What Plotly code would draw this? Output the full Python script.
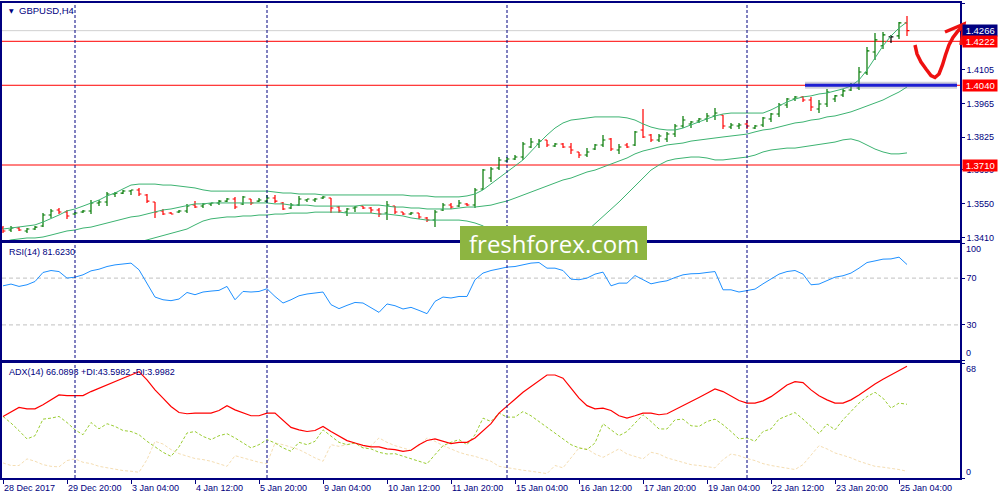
import plotly.graph_objects as go

# ---------------- data ----------------
bar_index = list(range(114))

opens = [1.34492, 1.34409, 1.34492, 1.34368, 1.34451, 1.34575, 1.35031, 1.35237, 1.35155, 1.35072,
         1.35155, 1.35196, 1.35527, 1.35568, 1.35899, 1.35940, 1.36023, 1.36065, 1.35858, 1.35568,
         1.35196, 1.35113, 1.35155, 1.35196, 1.35444, 1.35403, 1.35485, 1.35527, 1.35609, 1.35692,
         1.35485, 1.35692, 1.35609, 1.35609, 1.35734, 1.35527, 1.35320, 1.35444, 1.35651, 1.35651,
         1.35734, 1.35734, 1.35361, 1.35155, 1.35320, 1.35403, 1.35320, 1.35237, 1.35113, 1.35403,
         1.35155, 1.35072, 1.35113, 1.34906, 1.34824, 1.35237, 1.35444, 1.35403, 1.35485, 1.35444,
         1.36106, 1.36562, 1.36976, 1.37266, 1.37349, 1.37431, 1.37845, 1.37969, 1.38135, 1.37887,
         1.37969, 1.37845, 1.37638, 1.37514, 1.37762, 1.37928, 1.38176, 1.37721, 1.37928, 1.37928,
         1.38549, 1.38342, 1.38135, 1.38176, 1.38383, 1.38715, 1.38797, 1.38922, 1.39004, 1.39128,
         1.39170, 1.38673, 1.38715, 1.38797, 1.38632, 1.38756, 1.39004, 1.39211, 1.39584, 1.39832,
         1.39915, 1.39791, 1.39418, 1.39625, 1.39832, 1.39998, 1.40205, 1.40288, 1.40909, 1.41778,
         1.42027, 1.42399, 1.42441, 1.42979]
highs = [1.34575, 1.34575, 1.34533, 1.34492, 1.34575, 1.35113, 1.35279, 1.35320, 1.35237, 1.35155,
         1.35237, 1.35651, 1.35651, 1.35982, 1.35982, 1.36065, 1.36065, 1.36147, 1.35899, 1.35568,
         1.35279, 1.35155, 1.35237, 1.35485, 1.35609, 1.35527, 1.35527, 1.35651, 1.35734, 1.35775,
         1.35816, 1.35692, 1.35734, 1.35858, 1.35858, 1.35568, 1.35527, 1.35816, 1.35692, 1.35734,
         1.35816, 1.35734, 1.35403, 1.35320, 1.35403, 1.35403, 1.35361, 1.35320, 1.35609, 1.35403,
         1.35155, 1.35155, 1.35113, 1.34948, 1.35237, 1.35527, 1.35527, 1.35651, 1.35527, 1.36147,
         1.36935, 1.37017, 1.37431, 1.37431, 1.37514, 1.38052, 1.38218, 1.38176, 1.38135, 1.38011,
         1.38011, 1.38011, 1.37638, 1.37804, 1.37969, 1.38342, 1.38218, 1.37969, 1.38011, 1.38508,
         1.39418, 1.38383, 1.38383, 1.38466, 1.38797, 1.39128, 1.38922, 1.39045, 1.39252, 1.39460,
         1.39170, 1.38839, 1.38839, 1.38963, 1.38756, 1.39087, 1.39252, 1.39667, 1.39874, 1.39957,
         1.39957, 1.39915, 1.39791, 1.40246, 1.39998, 1.40246, 1.40495, 1.41157, 1.41985, 1.42565,
         1.42606, 1.42482, 1.43020, 1.43269]
lows = [1.34285, 1.34327, 1.34368, 1.34285, 1.34409, 1.34533, 1.34906, 1.35072, 1.34865, 1.35031,
        1.35113, 1.35072, 1.35403, 1.35403, 1.35775, 1.35899, 1.35858, 1.35816, 1.35527, 1.34906,
        1.35031, 1.35072, 1.35113, 1.35113, 1.35320, 1.35320, 1.35403, 1.35444, 1.35568, 1.35279,
        1.35444, 1.35444, 1.35568, 1.35527, 1.35527, 1.35237, 1.35279, 1.35403, 1.35568, 1.35568,
        1.35692, 1.35113, 1.35113, 1.34989, 1.35155, 1.35279, 1.35113, 1.34948, 1.34824, 1.35072,
        1.35031, 1.35031, 1.34865, 1.34741, 1.34533, 1.35196, 1.35279, 1.35361, 1.35403, 1.35320,
        1.36065, 1.36396, 1.36893, 1.37224, 1.37307, 1.37307, 1.37804, 1.37804, 1.37845, 1.37845,
        1.37804, 1.37555, 1.37390, 1.37431, 1.37721, 1.37845, 1.37680, 1.37555, 1.37804, 1.37887,
        1.38218, 1.38052, 1.38052, 1.38052, 1.38259, 1.38632, 1.38632, 1.38839, 1.38880, 1.38963,
        1.38590, 1.38590, 1.38590, 1.38590, 1.38590, 1.38673, 1.38880, 1.39087, 1.39460, 1.39750,
        1.39709, 1.39335, 1.39252, 1.39501, 1.39709, 1.39915, 1.40164, 1.40205, 1.40826, 1.41447,
        1.41902, 1.42151, 1.42316, 1.42441]
closes = [1.34368, 1.34492, 1.34409, 1.34451, 1.34533, 1.35031, 1.35196, 1.35155, 1.34989, 1.35113,
          1.35196, 1.35527, 1.35568, 1.35899, 1.35940, 1.36023, 1.36065, 1.35899, 1.35609, 1.35155,
          1.35072, 1.35072, 1.35196, 1.35403, 1.35361, 1.35485, 1.35527, 1.35609, 1.35692, 1.35361,
          1.35775, 1.35527, 1.35651, 1.35734, 1.35609, 1.35279, 1.35444, 1.35692, 1.35692, 1.35692,
          1.35775, 1.35320, 1.35196, 1.35279, 1.35361, 1.35320, 1.35237, 1.35072, 1.35444, 1.35155,
          1.35072, 1.35113, 1.34948, 1.34824, 1.35155, 1.35444, 1.35361, 1.35527, 1.35444, 1.36065,
          1.36893, 1.36935, 1.37307, 1.37349, 1.37431, 1.37969, 1.38052, 1.38094, 1.37928, 1.37969,
          1.37845, 1.37721, 1.37514, 1.37638, 1.37928, 1.38135, 1.37762, 1.37845, 1.37845, 1.38466,
          1.38259, 1.38135, 1.38301, 1.38383, 1.38715, 1.38963, 1.38880, 1.39004, 1.39128, 1.39252,
          1.38715, 1.38756, 1.38756, 1.38715, 1.38715, 1.39045, 1.39211, 1.39584, 1.39832, 1.39915,
          1.39791, 1.39501, 1.39625, 1.40122, 1.39957, 1.40164, 1.40412, 1.40950, 1.41820, 1.42275,
          1.42482, 1.42399, 1.42979, 1.42660]

bb_upper = [1.3445, 1.3449, 1.3453, 1.3458, 1.3462, 1.3474, 1.3487, 1.3503, 1.3520, 1.3528,
            1.3540, 1.3553, 1.3565, 1.3582, 1.3594, 1.3611, 1.3627, 1.3631, 1.3631, 1.3631,
            1.3627, 1.3627, 1.3623, 1.3619, 1.3615, 1.3607, 1.3602, 1.3602, 1.3602, 1.3602,
            1.3602, 1.3602, 1.3602, 1.3602, 1.3598, 1.3594, 1.3594, 1.3590, 1.3590, 1.3590,
            1.3586, 1.3586, 1.3586, 1.3586, 1.3586, 1.3586, 1.3586, 1.3586, 1.3586, 1.3586,
            1.3586, 1.3582, 1.3582, 1.3582, 1.3578, 1.3578, 1.3578, 1.3578, 1.3582, 1.3590,
            1.3607, 1.3631, 1.3656, 1.3681, 1.3706, 1.3731, 1.3768, 1.3801, 1.3834, 1.3863,
            1.3884, 1.3896, 1.3900, 1.3905, 1.3909, 1.3909, 1.3909, 1.3909, 1.3905, 1.3896,
            1.3880, 1.3867, 1.3859, 1.3855, 1.3855, 1.3863, 1.3876, 1.3888, 1.3900, 1.3913,
            1.3921, 1.3925, 1.3925, 1.3925, 1.3925, 1.3925, 1.3938, 1.3954, 1.3971, 1.3983,
            1.3992, 1.3996, 1.4004, 1.4008, 1.4016, 1.4025, 1.4037, 1.4062, 1.4103, 1.4153,
            1.4203, 1.4244, 1.4277, 1.4302]
bb_middle = [1.3391, 1.3400, 1.3404, 1.3408, 1.3408, 1.3412, 1.3420, 1.3429, 1.3437, 1.3441,
             1.3449, 1.3453, 1.3462, 1.3470, 1.3478, 1.3487, 1.3495, 1.3499, 1.3507, 1.3515,
             1.3524, 1.3528, 1.3536, 1.3544, 1.3549, 1.3549, 1.3553, 1.3553, 1.3553, 1.3553,
             1.3553, 1.3553, 1.3553, 1.3553, 1.3549, 1.3549, 1.3544, 1.3544, 1.3544, 1.3540,
             1.3540, 1.3540, 1.3540, 1.3540, 1.3540, 1.3544, 1.3544, 1.3544, 1.3540, 1.3536,
             1.3536, 1.3532, 1.3532, 1.3528, 1.3528, 1.3528, 1.3528, 1.3532, 1.3536, 1.3536,
             1.3540, 1.3544, 1.3553, 1.3561, 1.3573, 1.3586, 1.3598, 1.3611, 1.3623, 1.3636,
             1.3648, 1.3656, 1.3669, 1.3681, 1.3689, 1.3702, 1.3714, 1.3727, 1.3739, 1.3756,
             1.3768, 1.3776, 1.3785, 1.3793, 1.3797, 1.3801, 1.3809, 1.3814, 1.3818, 1.3822,
             1.3826, 1.3830, 1.3834, 1.3838, 1.3847, 1.3855, 1.3859, 1.3867, 1.3876, 1.3884,
             1.3888, 1.3896, 1.3900, 1.3909, 1.3913, 1.3921, 1.3930, 1.3942, 1.3954, 1.3967,
             1.3979, 1.3996, 1.4012, 1.4033]
bb_lower = [None] * 17 + [
             1.3391, 1.3400, 1.3408,
             1.3416, 1.3425, 1.3433, 1.3445, 1.3462, 1.3478, 1.3487, 1.3491, 1.3495, 1.3495,
             1.3499, 1.3499, 1.3503, 1.3503, 1.3507, 1.3507, 1.3511, 1.3511, 1.3511, 1.3515,
             1.3515, 1.3515, 1.3515, 1.3511, 1.3511, 1.3511, 1.3511, 1.3507, 1.3507, 1.3503,
             1.3499, 1.3491, 1.3487, 1.3482, 1.3482, 1.3482, 1.3482, 1.3482, 1.3478, 1.3470,
             1.3458, 1.3433, 1.3408, 1.3379] + [None] * 7 + [
             1.3383, 1.3404, 1.3437, 1.3466, 1.3499, 1.3528, 1.3557, 1.3590, 1.3623,
             1.3656, 1.3689, 1.3710, 1.3727, 1.3735, 1.3739, 1.3743, 1.3743, 1.3739, 1.3731,
             1.3731, 1.3735, 1.3739, 1.3743, 1.3751, 1.3764, 1.3772, 1.3776, 1.3780, 1.3780,
             1.3785, 1.3789, 1.3793, 1.3801, 1.3805, 1.3814, 1.3818, 1.3809, 1.3793, 1.3776,
             1.3764, 1.3756, 1.3756, 1.3760]

rsi = [63.4, 64.9, 62.9, 64.3, 67.1, 74.8, 76.5, 75.6, 70.0, 70.8,
       72.8, 76.2, 77.6, 79.9, 81.3, 81.9, 82.8, 77.1, 65.7, 53.8,
       51.5, 50.7, 52.1, 57.7, 55.8, 58.1, 58.9, 59.5, 62.9, 51.5,
       58.6, 58.1, 58.6, 60.9, 54.3, 48.7, 51.5, 54.9, 56.4, 57.2,
       58.1, 47.3, 43.9, 46.7, 49.2, 48.7, 44.5, 40.7, 47.9, 46.4,
       43.6, 45.0, 42.4, 39.6, 50.1, 53.8, 53.0, 54.3, 54.3, 68.6,
       74.3, 76.5, 77.9, 79.4, 79.9, 81.3, 82.8, 83.3, 78.5, 78.5,
       76.5, 69.1, 68.6, 70.0, 73.4, 75.1, 63.4, 65.7, 65.7, 72.2,
       68.6, 65.1, 66.6, 67.7, 70.5, 72.8, 73.7, 73.9, 74.8, 75.6,
       60.0, 60.0, 58.1, 59.5, 60.6, 65.1, 69.1, 73.4, 75.6, 76.5,
       73.4, 64.3, 64.9, 67.7, 70.8, 72.0, 74.3, 78.5, 83.3, 84.7,
       86.2, 86.4, 87.9, 81.623]

adx = [36.4, 39.3, 41.7, 40.9, 40.9, 43.3, 46.2, 49.1, 48.7, 48.6,
       48.7, 51.1, 53.1, 55.4, 57.0, 59.0, 60.9, 62.9, 58.0, 52.1,
       47.2, 42.3, 38.7, 38.0, 38.4, 38.4, 38.4, 39.9, 42.7, 40.3,
       38.4, 36.8, 36.8, 38.4, 38.4, 34.4, 29.9, 28.5, 27.5, 28.1,
       30.5, 27.5, 25.0, 22.1, 20.7, 19.3, 18.4, 18.4, 17.2, 16.8,
       15.8, 16.4, 19.7, 22.2, 23.1, 21.7, 20.3, 21.1, 21.1, 23.7,
       28.1, 32.1, 38.4, 42.3, 46.6, 50.7, 54.0, 57.6, 60.9, 60.9,
       59.0, 53.1, 47.2, 42.8, 40.9, 41.3, 39.9, 36.8, 35.4, 36.8,
       38.4, 38.4, 37.4, 38.0, 40.3, 42.8, 45.2, 47.6, 50.1, 52.7,
       51.1, 48.6, 45.8, 44.3, 44.3, 45.6, 48.1, 51.5, 55.0, 57.0,
       56.4, 52.1, 48.6, 46.2, 44.3, 44.3, 46.2, 49.1, 52.5, 55.6,
       58.4, 60.9, 63.4, 66.0893]
plus_di = [36.4, 32.5, 28.0, 23.1, 25.0, 34.8, 35.4, 36.4, 32.8, 28.5,
           25.6, 32.8, 29.1, 32.1, 30.5, 28.1, 27.5, 25.6, 21.7, 18.4,
           15.2, 12.8, 18.4, 26.6, 27.5, 24.6, 22.7, 25.0, 26.2, 23.7,
           20.7, 17.8, 19.7, 22.7, 20.7, 17.8, 15.8, 21.1, 19.7, 21.7,
           28.5, 24.6, 21.1, 19.7, 20.7, 17.8, 17.2, 15.2, 14.2, 14.4,
           12.8, 11.5, 9.9, 8.4, 13.8, 19.1, 21.1, 22.7, 19.7, 25.6,
           35.4, 33.4, 38.4, 36.0, 36.0, 39.3, 36.8, 33.4, 29.5, 26.2,
           23.1, 19.7, 17.8, 16.8, 20.7, 32.1, 28.5, 25.0, 27.5, 32.5,
           37.4, 33.4, 29.0, 29.0, 34.4, 34.8, 30.9, 30.5, 33.4, 34.8,
           31.5, 27.5, 23.1, 23.7, 21.7, 27.5, 29.0, 34.8, 36.8, 38.7,
           34.8, 30.5, 26.2, 31.9, 28.5, 34.4, 39.3, 44.3, 48.1, 50.7,
           47.2, 41.3, 44.3, 43.5982]
minus_di = [8.9, 7.4, 7.4, 11.3, 9.9, 7.9, 6.9, 6.6, 10.3, 11.3,
            9.3, 8.5, 6.9, 6.0, 5.0, 4.4, 4.0, 3.4, 10.9, 21.7,
            20.1, 16.8, 14.4, 12.8, 11.5, 10.9, 9.9, 8.4, 6.9, 13.2,
            11.9, 10.3, 9.3, 8.5, 20.7, 19.7, 18.4, 16.8, 14.4, 11.9,
            9.9, 19.7, 18.7, 19.7, 20.7, 17.8, 19.1, 23.7, 21.1, 19.1,
            17.8, 16.4, 19.1, 23.7, 21.7, 19.1, 17.2, 15.2, 13.8, 12.8,
            11.3, 9.9, 6.9, 6.0, 5.4, 4.6, 4.0, 3.4, 2.6, 7.4,
            6.0, 11.9, 17.8, 17.2, 14.2, 12.2, 14.8, 17.2, 14.2, 12.8,
            11.3, 15.2, 14.2, 11.9, 10.5, 9.3, 7.9, 7.4, 6.6, 6.0,
            10.9, 14.2, 13.2, 11.5, 10.3, 8.5, 7.4, 6.6, 6.0, 5.0,
            7.9, 13.8, 19.1, 17.2, 14.8, 13.4, 11.9, 9.9, 8.5, 6.9,
            6.4, 5.8, 5.0, 3.9982]

time_tick_index = [0, 8, 16, 24, 32, 40, 48, 56, 64, 72, 80, 88, 96, 104, 112]
time_tick_labels = ["28 Dec 2017", "29 Dec 20:00", "3 Jan 04:00", "4 Jan 12:00", "5 Jan 20:00",
                    "9 Jan 04:00", "10 Jan 12:00", "11 Jan 20:00", "15 Jan 04:00", "16 Jan 12:00",
                    "17 Jan 20:00", "19 Jan 04:00", "22 Jan 12:00", "23 Jan 20:00", "25 Jan 04:00"]
week_separators = [9, 33, 63, 93]
price_ticks = [1.3410, 1.3550, 1.3690, 1.3825, 1.3965, 1.4105, 1.4380]
red_levels = [1.4222, 1.4040, 1.3710]
bid_price = 1.4266
support_level = 1.4040
support_span = [100.25, 119.25]

# ---------------- styles ----------------
NAVY = "#000080"
FONT = "Liberation Sans"
X_RANGE = [-0.125, 119.625]

fig = go.Figure()

# OHLC bars (dojis in black)
doji = [i for i in bar_index if opens[i] == closes[i]]
normal = [i for i in bar_index if i not in doji]
fig.add_trace(go.Ohlc(
    x=normal, open=[opens[i] for i in normal], high=[highs[i] for i in normal],
    low=[lows[i] for i in normal], close=[closes[i] for i in normal],
    increasing=dict(line=dict(color="#007800", width=1.2)),
    decreasing=dict(line=dict(color="#FF0000", width=1.2)),
    tickwidth=0.3, xaxis="x", yaxis="y", hoverinfo="skip"))
fig.add_trace(go.Ohlc(
    x=doji, open=[opens[i] for i in doji], high=[highs[i] for i in doji],
    low=[lows[i] for i in doji], close=[closes[i] for i in doji],
    increasing=dict(line=dict(color="#000000", width=1.2)),
    decreasing=dict(line=dict(color="#000000", width=1.2)),
    tickwidth=0.3, xaxis="x", yaxis="y", hoverinfo="skip"))

for band in (bb_upper, bb_middle, bb_lower):
    fig.add_trace(go.Scatter(x=bar_index, y=band, mode="lines",
                             line=dict(color="#3CB371", width=1),
                             xaxis="x", yaxis="y", hoverinfo="skip"))

fig.add_trace(go.Scatter(x=bar_index, y=rsi, mode="lines",
                         line=dict(color="#1E90FF", width=1),
                         xaxis="x2", yaxis="y2", hoverinfo="skip"))

fig.add_trace(go.Scatter(x=bar_index, y=minus_di, mode="lines",
                         line=dict(color="#F5DEB3", width=1, dash="3px,2px"),
                         xaxis="x3", yaxis="y3", hoverinfo="skip"))
fig.add_trace(go.Scatter(x=bar_index, y=plus_di, mode="lines",
                         line=dict(color="#9ACD32", width=1, dash="3px,2px"),
                         xaxis="x3", yaxis="y3", hoverinfo="skip"))
fig.add_trace(go.Scatter(x=bar_index, y=adx, mode="lines",
                         line=dict(color="#FF0000", width=1.2),
                         xaxis="x3", yaxis="y3", hoverinfo="skip"))

shapes = []
# price lines
shapes.append(dict(type="line", xref="x domain", yref="y", x0=0, x1=1, y0=bid_price, y1=bid_price,
                   line=dict(color="#D0D0D0", width=1), layer="below"))
for lv in red_levels:
    shapes.append(dict(type="line", xref="x domain", yref="y", x0=0, x1=1, y0=lv, y1=lv,
                       line=dict(color="#FF0000", width=1), layer="below"))
# support line with shadow
shapes.append(dict(type="line", xref="x", yref="y", x0=support_span[0], x1=support_span[1],
                   y0=support_level, y1=support_level,
                   line=dict(color="rgba(120,120,150,0.35)", width=7)))
shapes.append(dict(type="line", xref="x", yref="y", x0=support_span[0], x1=support_span[1],
                   y0=support_level, y1=support_level,
                   line=dict(color="#1E1ED2", width=3)))
# RSI levels
for lv in (70, 30):
    shapes.append(dict(type="line", xref="x2 domain", yref="y2", x0=0, x1=1, y0=lv, y1=lv,
                       line=dict(color="#C0C0C0", width=1, dash="4px,3px"), layer="below"))
# weekly separators
for s in week_separators:
    shapes.append(dict(type="line", xref="x", yref="paper", x0=s, x1=s, y0=0, y1=1,
                       line=dict(color=NAVY, width=1, dash="3px,2px")))


def P(px, py):
    return f"{(px - 2) / 958:.5f},{(478 - py) / 475:.5f}"


# watermark box
shapes.append(dict(type="rect", xref="paper", yref="paper",
                   x0=(460 - 2) / 958, x1=(647 - 2) / 958,
                   y0=(478 - 260) / 475, y1=(478 - 226) / 475,
                   fillcolor="#8DB541", line=dict(width=0)))
# hand-drawn red arrow
arrow_pts = [(915, 45), (917, 54), (921, 62), (926, 69), (931, 75.5), (935, 77.5), (939, 74),
             (942.5, 65), (945.5, 55), (949, 45), (953, 37.5), (958, 31), (962, 27)]
shapes.append(dict(type="path", xref="paper", yref="paper",
                   path="M " + " L ".join(P(x, y) for x, y in arrow_pts),
                   line=dict(color="#EE1111", width=3.5)))
shapes.append(dict(type="path", xref="paper", yref="paper",
                   path=f"M {P(945, 32)} L {P(964, 24)} L {P(961, 45)}",
                   line=dict(color="#EE1111", width=3.5)))

annotations = []
small = dict(family=FONT, size=9, color=NAVY)
annotations.append(dict(xref="paper", yref="paper", x=0, y=(478 - 10.5) / 475, xshift=5,
                        xanchor="left", yanchor="middle", text="▼", showarrow=False,
                        font=dict(family="DejaVu Sans", size=6, color=NAVY)))
annotations.append(dict(xref="paper", yref="paper", x=0, y=(478 - 10) / 475, xshift=15,
                        xanchor="left", yanchor="middle", text="GBPUSD,H4", showarrow=False,
                        font=dict(family=FONT, size=9.5, color=NAVY)))
annotations.append(dict(xref="paper", yref="paper", x=0, y=(478 - 252) / 475, xshift=5,
                        xanchor="left", yanchor="middle", text="RSI(14) 81.6230", showarrow=False,
                        font=small))
annotations.append(dict(xref="paper", yref="paper", x=0, y=(478 - 372) / 475, xshift=5,
                        xanchor="left", yanchor="middle",
                        text="ADX(14) 66.0893 +DI:43.5982 -DI:3.9982", showarrow=False,
                        font=small))
for i, lab in zip(time_tick_index, time_tick_labels):
    annotations.append(dict(xref="x3", yref="paper", x=i, y=0, yshift=-3, xshift=-1,
                            xanchor="left", yanchor="top", text=lab, showarrow=False,
                            font=small))
# indicator scale labels
for val, ref, shift in ((100, "y2", -6), (0, "y2", 7), (68, "y3", -6), (0, "y3", 6)):
    annotations.append(dict(xref="paper", yref=ref, x=1, y=val, xshift=4, yshift=shift,
                            xanchor="left", yanchor="middle", text=str(val), showarrow=False,
                            font=small))
# price tags
tags = [(bid_price, NAVY), (1.4222, "#FF0000"), (1.4040, "#FF0000"), (1.3710, "#FF0000")]
for val, col in tags:
    annotations.append(dict(xref="paper", yref="y", x=1, y=val, xshift=2,
                            xanchor="left", yanchor="middle", text=f" {val:.4f} ",
                            showarrow=False, bgcolor=col, borderpad=0,
                            font=dict(family=FONT, size=9.5, color="white")))
# watermark text
annotations.append(dict(xref="paper", yref="paper", x=(553.5 - 2) / 958, y=(478 - 243) / 475,
                        xanchor="center", yanchor="middle", text="freshforex.com", showarrow=False,
                        font=dict(family="Open Sans", size=24, color="white")))

axis_common = dict(range=X_RANGE, showgrid=False, zeroline=False, showline=True, mirror=True,
                   linecolor=NAVY, linewidth=1.5, showticklabels=False, ticks="")
yax_common = dict(side="right", showgrid=False, zeroline=False, showline=True, mirror=True,
                  linecolor=NAVY, linewidth=1.5, ticks="outside", ticklen=3, tickcolor=NAVY,
                  tickfont=small, automargin=False)

fig.update_layout(
    width=1000, height=500,
    margin=dict(l=2, r=40, t=3, b=22, autoexpand=False),
    paper_bgcolor="white", plot_bgcolor="white",
    showlegend=False,
    xaxis=dict(axis_common, domain=[0, 1], anchor="y", rangeslider=dict(visible=False)),
    xaxis2=dict(axis_common, domain=[0, 1], anchor="y2", matches="x"),
    xaxis3=dict(axis_common, domain=[0, 1], anchor="y3", matches="x",
                ticks="outside", ticklen=4, tickcolor=NAVY, tickvals=time_tick_index),
    yaxis=dict(yax_common, domain=[(478 - 240) / 475, 1], anchor="x",
               range=[1.33996, 1.43805], tickvals=price_ticks, tickformat=".4f"),
    yaxis2=dict(yax_common, domain=[(478 - 360) / 475, (478 - 243) / 475], anchor="x2",
                range=[0, 100], tickvals=[0, 30, 70, 100], ticktext=["", "30", "70", ""]),
    yaxis3=dict(yax_common, domain=[0, (478 - 363) / 475], anchor="x3",
                range=[0, 68], tickvals=[0, 68], ticktext=["", ""]),
    shapes=shapes,
    annotations=annotations,
)

fig.write_html("out.html", config={"displayModeBar": False},
               post_script="document.body.style.margin='0px';document.body.style.padding='0px';")
